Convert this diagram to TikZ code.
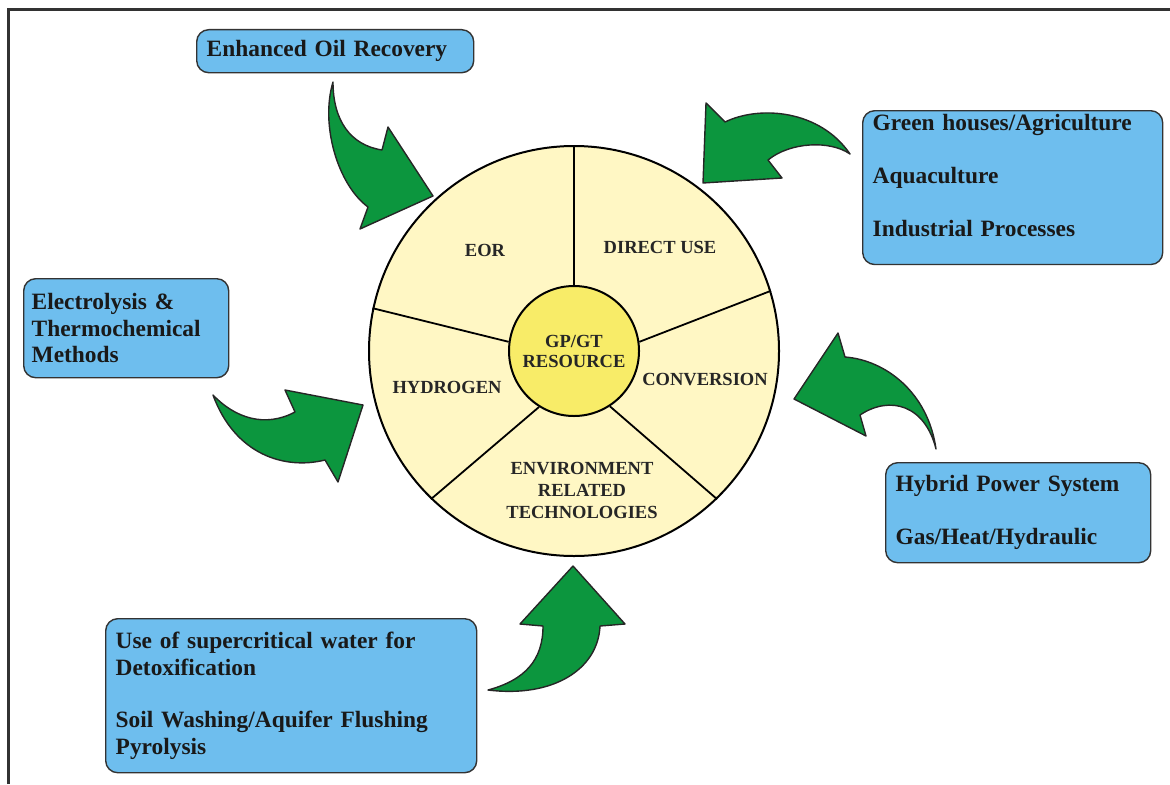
\documentclass[tikz,border=0pt]{standalone}
\usepackage{fontspec}
\setmainfont{Liberation Serif}
\usepackage{tikz}
\definecolor{wheelfill}{RGB}{255,247,196}
\definecolor{corefill}{RGB}{248,236,104}
\definecolor{boxfill}{RGB}{110,190,238}
\definecolor{arrowgreen}{RGB}{12,150,62}
\definecolor{framegray}{RGB}{50,50,50}

\begin{document}
\begin{tikzpicture}[x=0.5pt,y=0.5pt,
	infobox/.style={draw=black!80,line width=0.7pt,fill=boxfill,rounded corners=6pt,anchor=north west,align=left,inner xsep=5pt,inner ysep=2pt,font=\bfseries\fontsize{11.7}{13.2}\selectfont,text=black!90},
	sector/.style={align=center,font=\bfseries\fontsize{9.25}{11}\selectfont,text=black!85},
	bigarrow/.style={draw=black!85,line width=0.7pt,fill=arrowgreen,line join=round}]
		\useasboundingbox (0,0) rectangle (1170,784);
		\draw[framegray,line width=1.5pt] (8,0) -- (8,774) -- (1170,774);
		% wheel
		\node[circle,draw,line width=1pt,fill=wheelfill,minimum size=205pt] (wheel) at (574,433) {};
		\node[circle,draw,line width=1pt,fill=corefill,minimum size=65pt,inner sep=0pt,sector,font=\bfseries\fontsize{9.25}{10}\selectfont] (core) at (574,433) {GP/GT\\RESOURCE};
		\foreach \a/\b in {90/90,8/17,303/314,238/226,172/168}
			\draw[line width=0.9pt] (core.\a) -- (wheel.\b);
		\node[sector] (eor) at (485,534) {EOR};
		\node[sector] (direct) at (660,537) {DIRECT USE};
		\node[sector] (conv) at (705,404) {CONVERSION};
		\node[sector] (hydro) at (447,397) {HYDROGEN};
		\node[sector] (env) at (582,294) {ENVIRONMENT\\RELATED\\TECHNOLOGIES};
		% boxes
		\node[infobox,text width=128.5pt,minimum height=21.5pt] (eorbox) at (196,755) {Enhanced Oil Recovery};
		\node[infobox,text width=140pt,minimum height=76pt] (directbox) at (862,674) {Green houses/Agriculture\\[13.2pt]Aquaculture\\[13.2pt]Industrial Processes\rule[-12pt]{0pt}{12pt}};
		\node[infobox,inner xsep=4pt,text width=94.5pt,minimum height=49.5pt] (h2box) at (23,506) {Electrolysis \&\\Thermochemical\\Methods};
		\node[infobox,text width=122.5pt,minimum height=50pt] (hybridbox) at (885,322) {Hybrid Power System\\[13.2pt]Gas/Heat/Hydraulic};
		\node[infobox,text width=175.5pt,minimum height=77pt] (envbox) at (105,166) {Use of supercritical water for\\Detoxification\\[13.2pt]Soil Washing/Aquifer Flushing\\Pyrolysis};
		% arrows
		\draw[bigarrow] (333,702) .. controls (333,664) and (350,639) .. (382,634) -- (388,657) -- (433,588) -- (360,555) -- (368,577) .. controls (338,599) and (320,659) .. (333,702) -- cycle;
		\draw[bigarrow] (706,681) -- (725,662) .. controls (760,679) and (820,674) .. (850,630) .. controls (830,644) and (790,642) .. (768,624) -- (782,606) -- (703,601) -- cycle;
		\draw[bigarrow] (838,451) -- (845,427) .. controls (885,424) and (928,392) .. (936,335) .. controls (925,379) and (890,389) .. (860,369) -- (866,348) -- (794,385) -- cycle;
		\draw[bigarrow] (213,389) .. controls (235,366) and (265,356) .. (295,372) -- (285,394) -- (363,379) -- (338,302) -- (325,324) .. controls (285,314) and (235,329) .. (213,389) -- cycle;
		\draw[bigarrow] (488,94) .. controls (525,104) and (543,124) .. (543,158) -- (520,160) -- (573,218) -- (625,160) -- (600,158) .. controls (598,114) and (552,86) .. (488,94) -- cycle;
	\end{tikzpicture}
\end{document}
